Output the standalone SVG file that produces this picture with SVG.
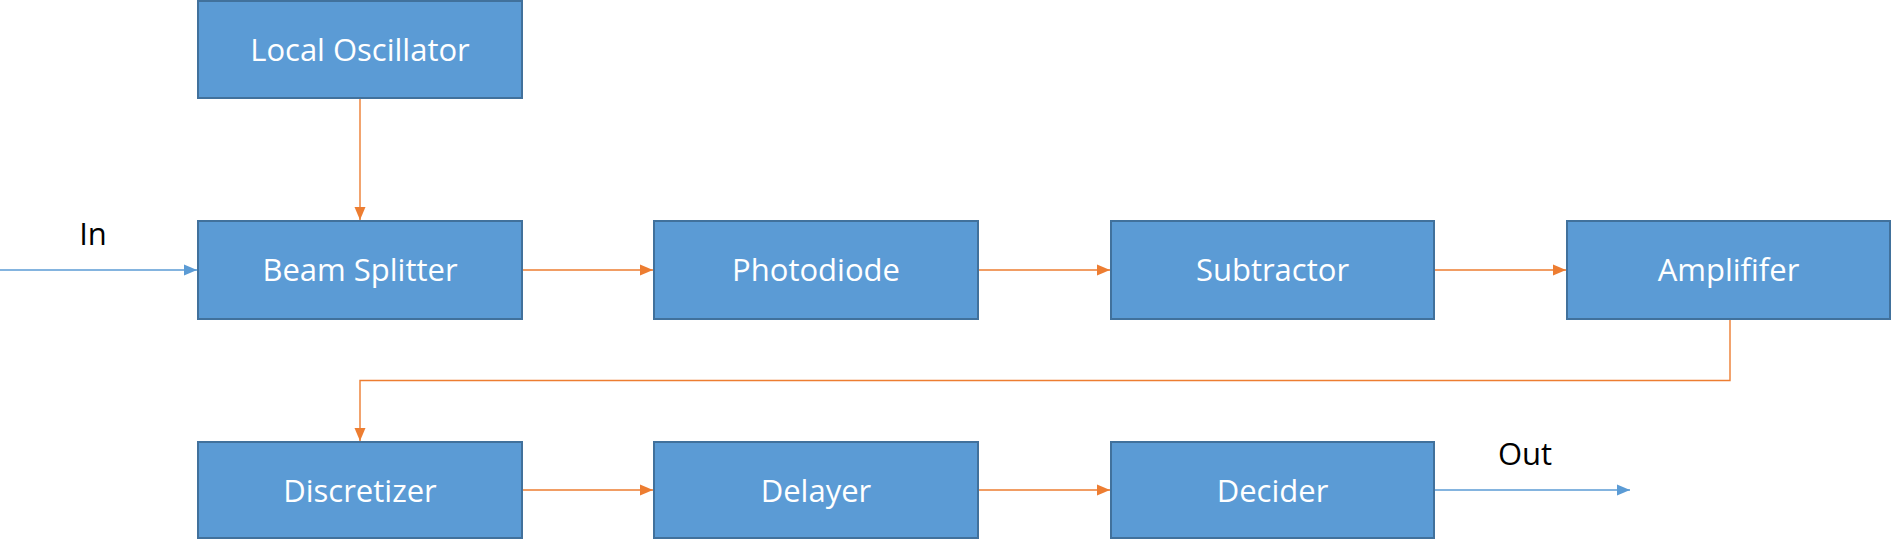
<svg xmlns="http://www.w3.org/2000/svg" width="1893" height="540" viewBox="0 0 1893 540">
<style>
.box{fill:#5B9BD5;stroke:#41719C;stroke-width:2}
.lbl{fill:#ffffff;font-family:"Open Sans","Noto Sans",sans-serif;font-size:31px;text-anchor:middle}
.ext{fill:#000000;font-family:"Open Sans","Noto Sans",sans-serif;font-size:31px;text-anchor:middle}
.oc{fill:none;stroke:#ED7D31;stroke-width:1.4}
.bc{fill:none;stroke:#5B9BD5;stroke-width:1.4}
</style>
<defs>
<marker id="ao" markerUnits="userSpaceOnUse" markerWidth="13" markerHeight="13" viewBox="0 0 13 13" refX="13" refY="6.5" orient="auto"><path d="M0,1 L13,6.5 L0,12 Z" fill="#ED7D31"/></marker>
<marker id="ab" markerUnits="userSpaceOnUse" markerWidth="13" markerHeight="13" viewBox="0 0 13 13" refX="13" refY="6.5" orient="auto"><path d="M0,1 L13,6.5 L0,12 Z" fill="#5B9BD5"/></marker>
</defs>
<g id="connectors">
<path class="oc" d="M360,98 L360,220" marker-end="url(#ao)"/>
<path class="bc" d="M0,270 L197,270" marker-end="url(#ab)"/>
<path class="oc" d="M523,270 L653,270" marker-end="url(#ao)"/>
<path class="oc" d="M979,270 L1110,270" marker-end="url(#ao)"/>
<path class="oc" d="M1435,270 L1566,270" marker-end="url(#ao)"/>
<path class="oc" d="M1730,320 L1730,380.5 L360,380.5 L360,441" marker-end="url(#ao)"/>
<path class="oc" d="M523,490 L653,490" marker-end="url(#ao)"/>
<path class="oc" d="M979,490 L1110,490" marker-end="url(#ao)"/>
<path class="bc" d="M1435,490 L1630,490" marker-end="url(#ab)"/>
<text class="ext" x="93" y="245">In</text>
<text class="ext" x="1525" y="465">Out</text>
</g>
<g id="local-oscillator"><rect class="box" x="198" y="1" width="324" height="97"/><text class="lbl" x="360" y="61">Local Oscillator</text></g>
<g id="beam-splitter"><rect class="box" x="198" y="221" width="324" height="98"/><text class="lbl" x="360" y="281">Beam Splitter</text></g>
<g id="photodiode"><rect class="box" x="654" y="221" width="324" height="98"/><text class="lbl" x="816" y="281">Photodiode</text></g>
<g id="subtractor"><rect class="box" x="1111" y="221" width="323" height="98"/><text class="lbl" x="1272.5" y="281">Subtractor</text></g>
<g id="amplifier"><rect class="box" x="1567" y="221" width="323" height="98"/><text class="lbl" x="1728.5" y="281">Amplififer</text></g>
<g id="discretizer"><rect class="box" x="198" y="442" width="324" height="96"/><text class="lbl" x="360" y="502">Discretizer</text></g>
<g id="delayer"><rect class="box" x="654" y="442" width="324" height="96"/><text class="lbl" x="816" y="502">Delayer</text></g>
<g id="decider"><rect class="box" x="1111" y="442" width="323" height="96"/><text class="lbl" x="1272.5" y="502">Decider</text></g>
</svg>
